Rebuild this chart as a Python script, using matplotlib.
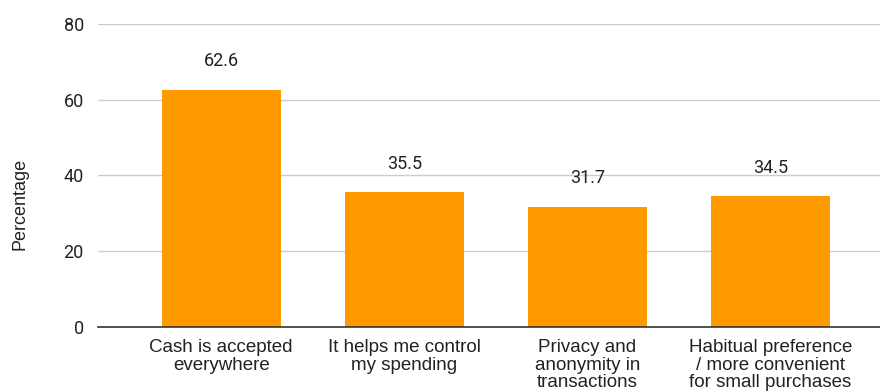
import matplotlib.pyplot as plt

categories = [
    "Cash is accepted\neverywhere",
    "It helps me control\nmy spending",
    "Privacy and\nanonymity in\ntransactions",
    "Habitual preference\n/ more convenient\nfor small purchases",
]
values = [62.6, 35.5, 31.7, 34.5]
yticks = [0, 20, 40, 60, 80]

fig = plt.figure(figsize=(8.8, 3.92), dpi=100)
ax = fig.add_axes([0.111, 0.166, 0.889, 0.773])

x = list(range(len(values)))
bars = ax.bar(x, values, width=0.65, color="#ff9900", zorder=3)
for xi, v in zip(x, values):
    ax.annotate(f"{v}", (xi, v), xytext=(0, 14), textcoords="offset points",
                ha="center", va="bottom", fontsize=13, family="Roboto", color="#222222")

ax.set_xlim(-0.675, 3.6)
ax.set_ylim(0, 80)
ax.set_yticks(yticks)
ax.set_yticklabels([str(t) for t in yticks], family="Roboto", fontsize=13, color="#222222")
ax.set_xticks(x)
ax.set_xticklabels(categories, family="Liberation Sans", fontsize=13.5, color="#222222",
                   linespacing=1.02)
ax.tick_params(axis="y", length=0, pad=10)
ax.tick_params(axis="x", length=0, pad=9)
ax.grid(axis="y", color="#cccccc", linewidth=1, zorder=0)
for s in ["top", "right", "left"]:
    ax.spines[s].set_visible(False)
ax.spines["bottom"].set_color("#333333")
ax.spines["bottom"].set_linewidth(1.2)
ax.spines["bottom"].set_zorder(4)
ax.set_ylabel("Percentage", family="Liberation Sans", fontsize=13, color="#222222")
ax.yaxis.set_label_coords(-0.089, 0.406)

fig.savefig("out.png", dpi=100)
